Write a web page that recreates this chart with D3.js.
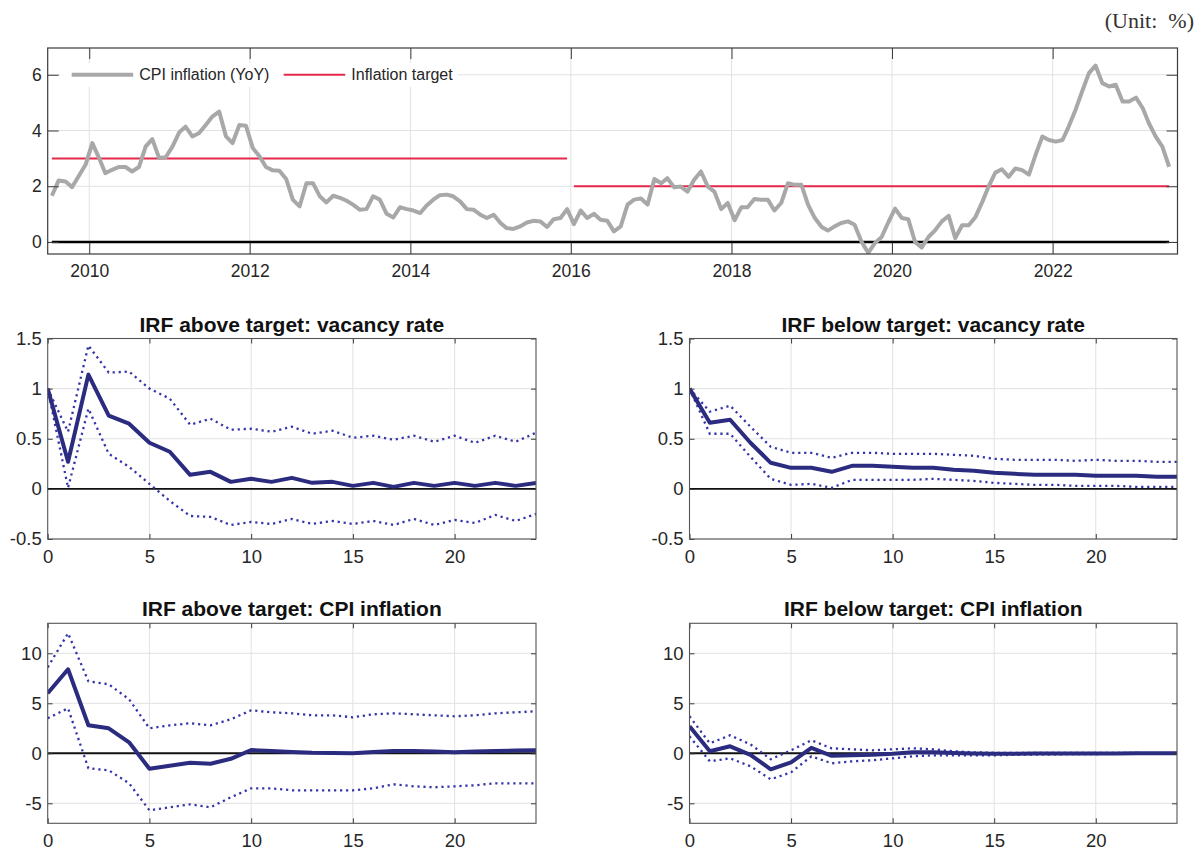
<!DOCTYPE html>
<html>
<head>
<meta charset="utf-8">
<script src="https://cdn.jsdelivr.net/npm/d3@7"></script>
<style>
  body { margin: 0; background: #fff; }
  svg { display: block; }
  text { font-family: "Liberation Sans", Arial, Helvetica, sans-serif; fill: #262626; }
</style>
</head>
<body>
<svg id="chart" width="1203" height="854"></svg>
<script>
// ---------- CPI inflation (YoY, %), monthly from July 2009 to June 2023 ----------
const cpiFirstMonth = [2009, 7];
const cpiInflation = [
  1.66, 2.21, 2.17, 1.97, 2.38, 2.77,                                   // 2009 Jul-Dec
  3.55, 3.01, 2.47, 2.59, 2.69, 2.69, 2.53, 2.69, 3.43, 3.69, 3.01, 3.04, // 2010
  3.43, 3.94, 4.14, 3.79, 3.90, 4.20, 4.50, 4.68, 3.79, 3.55, 4.20, 4.17, // 2011
  3.37, 3.07, 2.69, 2.57, 2.56, 2.26, 1.52, 1.28, 2.11, 2.11, 1.64, 1.42, // 2012
  1.66, 1.58, 1.49, 1.34, 1.16, 1.18, 1.64, 1.52, 1.01, 0.88, 1.25, 1.18, // 2013
  1.13, 1.04, 1.30, 1.52, 1.68, 1.70, 1.64, 1.46, 1.18, 1.16, 0.98, 0.86, // 2014
  0.98, 0.68, 0.50, 0.47, 0.56, 0.70, 0.76, 0.74, 0.54, 0.82, 0.86, 1.18, // 2015
  0.64, 1.13, 0.86, 1.01, 0.80, 0.76, 0.38, 0.56, 1.34, 1.52, 1.56, 1.34, // 2016
  2.26, 2.11, 2.29, 1.96, 1.99, 1.81, 2.23, 2.53, 1.99, 1.81, 1.18, 1.40, // 2017
  0.78, 1.25, 1.25, 1.54, 1.52, 1.52, 1.13, 1.40, 2.11, 2.05, 2.05, 1.34, // 2018
  0.86, 0.54, 0.41, 0.56, 0.68, 0.74, 0.62, 0.02, -0.39, -0.04, 0.18, 0.70, // 2019
  1.20, 0.86, 0.82, 0.00, -0.20, 0.18, 0.42, 0.74, 0.94, 0.14, 0.60, 0.60, // 2020
  0.90, 1.44, 1.98, 2.49, 2.61, 2.34, 2.64, 2.58, 2.42, 3.12, 3.78, 3.66, // 2021
  3.60, 3.66, 4.14, 4.74, 5.40, 6.06, 6.33, 5.70, 5.58, 5.64, 5.04, 5.04, // 2022
  5.18, 4.80, 4.26, 3.78, 3.42, 2.70                                    // 2023 Jan-Jun
];

// Inflation target regimes: [first month, last month, target %]
const targetStart = [[2009, 7], [2016, 1]];
const targetEnd   = [[2015, 12], [2023, 6]];
const targetValue = [3, 2];

const topYTicks = [0, 2, 4, 6];
const topYearTicks = [2010, 2012, 2014, 2016, 2018, 2020, 2022];
const legendLabels = ["CPI inflation (YoY)", "Inflation target"];

// ---------- Impulse responses, horizons 0..24 ----------
const horizons = d3.range(0, 25);

const aboveVacMedian = [1.00, 0.27, 1.14, 0.73, 0.65, 0.46, 0.37, 0.14, 0.17, 0.07, 0.10, 0.07, 0.11, 0.06, 0.07, 0.03, 0.06, 0.02, 0.06, 0.03, 0.06, 0.03, 0.06, 0.03, 0.06];
const aboveVacUpper  = [1.00, 0.57, 1.43, 1.16, 1.17, 1.00, 0.90, 0.64, 0.70, 0.59, 0.60, 0.57, 0.62, 0.55, 0.58, 0.51, 0.53, 0.49, 0.53, 0.47, 0.53, 0.46, 0.53, 0.47, 0.56];
const aboveVacLower  = [1.00, 0.01, 0.80, 0.35, 0.22, 0.05, -0.12, -0.27, -0.28, -0.36, -0.33, -0.35, -0.30, -0.35, -0.32, -0.35, -0.32, -0.36, -0.30, -0.36, -0.31, -0.34, -0.26, -0.32, -0.25];

const belowVacMedian = [1.00, 0.66, 0.69, 0.46, 0.26, 0.21, 0.21, 0.17, 0.23, 0.23, 0.22, 0.21, 0.21, 0.19, 0.18, 0.16, 0.15, 0.14, 0.14, 0.14, 0.13, 0.13, 0.13, 0.12, 0.12];
const belowVacUpper  = [1.00, 0.77, 0.83, 0.62, 0.42, 0.36, 0.36, 0.31, 0.36, 0.36, 0.35, 0.35, 0.35, 0.34, 0.33, 0.30, 0.29, 0.29, 0.29, 0.28, 0.29, 0.28, 0.28, 0.27, 0.27];
const belowVacLower  = [1.00, 0.55, 0.55, 0.32, 0.10, 0.04, 0.05, 0.01, 0.09, 0.09, 0.09, 0.09, 0.10, 0.09, 0.08, 0.06, 0.05, 0.04, 0.04, 0.03, 0.03, 0.03, 0.02, 0.02, 0.02];

const aboveCpiMedian = [6.0, 8.4, 2.8, 2.5, 1.1, -1.55, -1.25, -0.95, -1.05, -0.55, 0.33, 0.23, 0.13, 0.05, 0.03, 0.0, 0.13, 0.23, 0.23, 0.17, 0.10, 0.17, 0.23, 0.27, 0.30];
const aboveCpiUpper  = [8.6, 12.0, 7.2, 6.9, 5.4, 2.5, 2.8, 3.0, 2.8, 3.4, 4.3, 4.1, 4.0, 3.8, 3.8, 3.6, 3.9, 4.0, 3.9, 3.8, 3.7, 3.8, 4.0, 4.1, 4.2];
const aboveCpiLower  = [3.5, 4.5, -1.5, -1.7, -3.0, -5.7, -5.4, -5.1, -5.4, -4.4, -3.5, -3.5, -3.7, -3.7, -3.7, -3.7, -3.5, -3.1, -3.3, -3.4, -3.3, -3.2, -3.0, -3.0, -3.0];

const belowCpiMedian = [2.7, 0.2, 0.7, -0.15, -1.6, -0.9, 0.55, -0.25, -0.2, -0.15, -0.05, 0.1, 0.1, 0.03, -0.03, -0.05, -0.04, -0.03, -0.02, -0.02, -0.01, -0.01, 0, 0, 0];
const belowCpiUpper  = [3.7, 1.0, 1.8, 0.9, -0.6, 0.3, 1.3, 0.5, 0.4, 0.3, 0.4, 0.5, 0.4, 0.2, 0.1, 0.05, 0.05, 0.05, 0.04, 0.04, 0.03, 0.03, 0.03, 0.02, 0.02];
const belowCpiLower  = [1.7, -0.8, -0.5, -1.3, -2.6, -1.9, -0.3, -1.0, -0.8, -0.7, -0.5, -0.3, -0.2, -0.2, -0.2, -0.2, -0.15, -0.12, -0.1, -0.08, -0.07, -0.06, -0.05, -0.05, -0.05];

const irfTitles = [
  "IRF above target: vacancy rate",
  "IRF below target: vacancy rate",
  "IRF above target: CPI inflation",
  "IRF below target: CPI inflation"
];
const vacancyTicks = [-0.5, 0, 0.5, 1, 1.5];
const cpiTicks = [-5, 0, 5, 10];
const horizonTicks = [0, 5, 10, 15, 20];

// ---------- drawing ----------
const svg = d3.select("#chart");
const GRID = "#e2e2e2", BOX = "#3a3a3a";
const fmt = d => String(d);                     // plain hyphen minus signs
const monthDate = (y, m) => new Date(y, m - 1, 15);

// unit note
svg.append("text")
  .attr("x", 1194).attr("y", 28)
  .attr("text-anchor", "end")
  .style("font-family", '"Liberation Serif", "Times New Roman", serif')
  .style("font-size", "22px").style("fill", "#333")
  .style("white-space", "pre")
  .text("(Unit:  %)");

// ---- top panel: CPI vs. target ----
(function () {
  const box = { left: 47.7, right: 1177.5, top: 48, bottom: 254 };
  const x = d3.scaleTime()
    .domain([new Date(2009, 5, 26), new Date(2023, 6, 23)])
    .range([box.left, box.right]);
  const y = d3.scaleLinear().domain([-0.43, 6.96]).range([box.bottom, box.top]);
  const g = svg.append("g");

  const cpi = cpiInflation.map((v, i) => ({
    date: monthDate(cpiFirstMonth[0], cpiFirstMonth[1] + i), value: v
  }));
  const yearDates = topYearTicks.map(yr => new Date(yr, 0, 1));

  // grid
  g.append("g").selectAll("line").data(yearDates).join("line")
    .attr("x1", d => x(d)).attr("x2", d => x(d))
    .attr("y1", box.top).attr("y2", box.bottom)
    .attr("stroke", GRID).attr("stroke-width", 1);
  g.append("g").selectAll("line").data(topYTicks).join("line")
    .attr("x1", box.left).attr("x2", box.right)
    .attr("y1", d => y(d)).attr("y2", d => y(d))
    .attr("stroke", GRID).attr("stroke-width", 1);

  const clip = svg.append("clipPath").attr("id", "clip-top");
  clip.append("rect").attr("x", box.left).attr("y", box.top)
    .attr("width", box.right - box.left).attr("height", box.bottom - box.top);
  const plot = g.append("g").attr("clip-path", "url(#clip-top)");

  // zero reference over the sample period
  const span = [cpi[0].date, cpi[cpi.length - 1].date];
  plot.append("line")
    .attr("x1", x(span[0])).attr("x2", x(span[1]))
    .attr("y1", y(0)).attr("y2", y(0))
    .attr("stroke", "#000").attr("stroke-width", 2.6);

  // target regimes
  plot.append("g").selectAll("line").data(targetValue).join("line")
    .attr("x1", (d, i) => x(monthDate(...targetStart[i])))
    .attr("x2", (d, i) => x(monthDate(...targetEnd[i])))
    .attr("y1", d => y(d)).attr("y2", d => y(d))
    .attr("stroke", "#e5294c").attr("stroke-width", 2);

  // CPI line
  plot.append("path").datum(cpi)
    .attr("fill", "none").attr("stroke", "#a8a8a8")
    .attr("stroke-width", 4).attr("stroke-linejoin", "round")
    .attr("d", d3.line().x(d => x(d.date)).y(d => y(d.value)));

  // axes with inward ticks on all four sides
  const tl = 11;
  const ax = (axis, tx, ty) => {
    const a = g.append("g").attr("transform", `translate(${tx},${ty})`).call(axis);
    a.select(".domain").remove();
    a.selectAll(".tick line").attr("stroke", BOX);
    a.selectAll("text").style("font-size", "17.5px").style("fill", "#262626")
      .style("font-family", '"Liberation Sans", Arial, sans-serif');
    return a;
  };
  ax(d3.axisBottom(x).tickValues(yearDates).tickFormat(d3.timeFormat("%Y")).tickSize(-tl).tickPadding(11), 0, box.bottom);
  ax(d3.axisTop(x).tickValues(yearDates).tickFormat("").tickSize(-tl), 0, box.top);
  ax(d3.axisLeft(y).tickValues(topYTicks).tickFormat(fmt).tickSize(-tl).tickPadding(6), box.left, 0);
  ax(d3.axisRight(y).tickValues(topYTicks).tickFormat("").tickSize(-tl), box.right, 0);

  g.append("rect")
    .attr("x", box.left).attr("y", box.top)
    .attr("width", box.right - box.left).attr("height", box.bottom - box.top)
    .attr("fill", "none").attr("stroke", BOX).attr("stroke-width", 1.2);

  // legend
  const lg = g.append("g");
  lg.append("rect").attr("x", 60).attr("y", 63).attr("width", 398).attr("height", 24).attr("fill", "#fff");
  const items = [
    { label: legendLabels[0], color: "#a8a8a8", w: 4, x0: 71.7 },
    { label: legendLabels[1], color: "#e5294c", w: 2, x0: 283.7 }
  ];
  items.forEach(it => {
    lg.append("line").attr("x1", it.x0).attr("x2", it.x0 + 61.5)
      .attr("y1", 74.7).attr("y2", 74.7)
      .attr("stroke", it.color).attr("stroke-width", it.w);
    lg.append("text").attr("x", it.x0 + 67.6).attr("y", 80.3)
      .style("font-size", "16px").text(it.label);
  });
})();

// ---- impulse-response panels ----
const panels = [
  { title: irfTitles[0], med: aboveVacMedian, up: aboveVacUpper, lo: aboveVacLower, dom: [-0.5, 1.5], ticks: vacancyTicks, left: 47.7, right: 536, top: 338.5, bottom: 539 },
  { title: irfTitles[1], med: belowVacMedian, up: belowVacUpper, lo: belowVacLower, dom: [-0.5, 1.5], ticks: vacancyTicks, left: 689.5, right: 1177, top: 338.5, bottom: 539 },
  { title: irfTitles[2], med: aboveCpiMedian, up: aboveCpiUpper, lo: aboveCpiLower, dom: [-7, 13], ticks: cpiTicks, left: 47.7, right: 536, top: 623.3, bottom: 823.3 },
  { title: irfTitles[3], med: belowCpiMedian, up: belowCpiUpper, lo: belowCpiLower, dom: [-7, 13], ticks: cpiTicks, left: 689.5, right: 1177, top: 623.3, bottom: 823.3 }
];

panels.forEach((p, idx) => {
  const x = d3.scaleLinear().domain([0, 24]).range([p.left, p.right]);
  const y = d3.scaleLinear().domain(p.dom).range([p.bottom, p.top]);
  const g = svg.append("g");

  g.append("g").selectAll("line").data(horizonTicks.slice(1)).join("line")
    .attr("x1", d => x(d)).attr("x2", d => x(d))
    .attr("y1", p.top).attr("y2", p.bottom)
    .attr("stroke", GRID);
  g.append("g").selectAll("line").data(p.ticks).join("line")
    .attr("x1", p.left).attr("x2", p.right)
    .attr("y1", d => y(d)).attr("y2", d => y(d))
    .attr("stroke", GRID);

  const cid = "clip-irf-" + idx;
  svg.append("clipPath").attr("id", cid).append("rect")
    .attr("x", p.left).attr("y", p.top)
    .attr("width", p.right - p.left).attr("height", p.bottom - p.top);
  const plot = g.append("g").attr("clip-path", `url(#${cid})`);

  plot.append("line")
    .attr("x1", x(0)).attr("x2", x(24))
    .attr("y1", y(0)).attr("y2", y(0))
    .attr("stroke", "#111").attr("stroke-width", 1.9);

  const line = d3.line().x((d, i) => x(horizons[i])).y(d => y(d));
  [p.up, p.lo].forEach(band => {
    plot.append("path").datum(band)
      .attr("fill", "none").attr("stroke", "#3535aa")
      .attr("stroke-width", 2.3).attr("stroke-dasharray", "2.2 3.8")
      .attr("d", line);
  });
  plot.append("path").datum(p.med)
    .attr("fill", "none").attr("stroke", "#2b2b80")
    .attr("stroke-width", 4).attr("stroke-linejoin", "round")
    .attr("d", line);

  const tl = 5;
  const ax = (axis, tx, ty) => {
    const a = g.append("g").attr("transform", `translate(${tx},${ty})`).call(axis);
    a.select(".domain").remove();
    a.selectAll(".tick line").attr("stroke", BOX);
    a.selectAll("text").style("font-size", "18.5px").style("fill", "#262626")
      .style("font-family", '"Liberation Sans", Arial, sans-serif');
  };
  ax(d3.axisBottom(x).tickValues(horizonTicks).tickFormat(fmt).tickSize(-tl).tickPadding(11), 0, p.bottom);
  ax(d3.axisTop(x).tickValues(horizonTicks).tickFormat("").tickSize(-tl), 0, p.top);
  ax(d3.axisLeft(y).tickValues(p.ticks).tickFormat(fmt).tickSize(-tl).tickPadding(6), p.left, 0);
  ax(d3.axisRight(y).tickValues(p.ticks).tickFormat("").tickSize(-tl), p.right, 0);

  g.append("rect")
    .attr("x", p.left).attr("y", p.top)
    .attr("width", p.right - p.left).attr("height", p.bottom - p.top)
    .attr("fill", "none").attr("stroke", "#555").attr("stroke-width", 1.1);

  g.append("text")
    .attr("x", (p.left + p.right) / 2).attr("y", p.top - 7)
    .attr("text-anchor", "middle")
    .style("font-size", "21px").style("font-weight", "bold")
    .style("fill", "#111")
    .text(p.title);
});
</script>
</body>
</html>
